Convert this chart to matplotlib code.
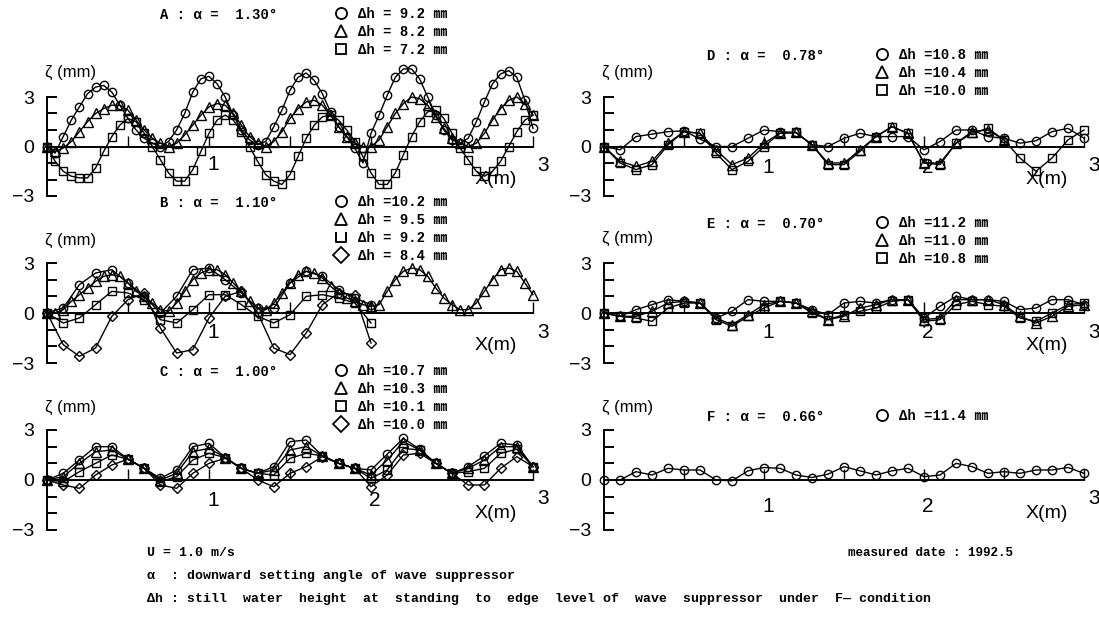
import matplotlib
matplotlib.use("Agg")
import matplotlib.pyplot as plt
from matplotlib.lines import Line2D
from matplotlib.path import Path

W, H = 1099, 621

# ---------------- data (x in m, zeta in mm) ----------------
x05 = [round(0.05 * i, 2) for i in range(61)]
x10 = [round(0.1 * i, 1) for i in range(31)]
x10_to20 = x10[:21]
x10_to25 = x10[:26]

# Panel A : alpha = 1.30 deg
A_dh92 = [0.0, -0.4, 0.6, 1.6, 2.4, 3.2, 3.6, 3.7, 3.3, 2.5, 1.7, 1.0, 0.5, 0.2, 0.0, 0.3,
          1.0, 2.0, 3.3, 4.1, 4.25, 3.8, 3.0, 1.9, 1.0, 0.4, 0.1, 0.3, 1.2, 2.2, 3.4, 4.2,
          4.45, 4.0, 3.2, 2.1, 1.2, 0.6, -0.1, -1.0, 0.8, 1.9, 3.1, 4.2, 4.7, 4.7, 4.1, 3.0,
          1.9, 1.0, 0.4, 0.2, 0.5, 1.5, 2.7, 3.8, 4.4, 4.6, 4.2, 2.8, 1.1]
A_dh82 = [0.0, -0.3, -0.1, 0.3, 0.9, 1.5, 2.0, 2.3, 2.5, 2.5, 2.2, 1.6, 1.0, 0.5, 0.2, 0.0,
          0.2, 0.7, 1.3, 1.9, 2.4, 2.6, 2.5, 2.0, 1.3, 0.6, 0.2, 0.0, 0.3, 0.9, 1.7, 2.3,
          2.7, 2.8, 2.5, 1.9, 1.2, 0.6, 0.2, 0.0, 0.0, 0.4, 1.2, 2.0, 2.6, 3.0, 2.9, 2.5,
          1.8, 1.1, 0.5, 0.2, 0.0, 0.2, 0.8, 1.6, 2.3, 2.8, 3.0, 2.6, 1.9]
A_dh72 = [0.0, -0.9, -1.5, -1.8, -1.9, -1.9, -1.3, -0.3, 0.6, 1.3, 1.7, 1.5, 0.8, 0.0, -0.8, -1.6,
          -2.1, -2.1, -1.4, -0.3, 0.8, 1.6, 1.9, 1.6, 0.9, 0.0, -0.9, -1.7, -2.1, -2.3, -1.7, -0.6,
          0.5, 1.3, 1.8, 1.9, 1.6, 1.0, 0.3, -0.6, -1.6, -2.3, -2.3, -1.6, -0.5, 0.6, 1.5, 2.1,
          2.2, 1.7, 0.8, -0.1, -0.8, -1.5, -1.8, -1.5, -0.9, 0.0, 0.9, 1.6, 1.9]

# Panel B : alpha = 1.10 deg
B_dh102 = [0.0, 0.3, 1.7, 2.4, 2.6, 1.8, 1.0, 0.0, 1.0, 2.6, 2.7, 2.0, 1.2, 0.3, 0.3, 1.8,
           2.5, 2.2, 1.4, 0.9, 0.5]
B_dh95 = [0.0, 0.0, 0.2, 0.7, 1.1, 1.5, 1.9, 2.2, 2.3, 2.2, 1.8, 1.3, 1.0, 0.6, 0.2, 0.1,
          0.6, 1.3, 2.0, 2.4, 2.6, 2.6, 2.3, 1.8, 1.3, 0.7, 0.3, 0.2, 0.6, 1.2, 1.8, 2.3,
          2.5, 2.4, 2.1, 1.6, 1.2, 0.9, 0.7, 0.5, 0.4, 0.5, 1.3, 2.0, 2.5, 2.7, 2.6, 2.2,
          1.5, 0.9, 0.5, 0.2, 0.2, 0.6, 1.3, 2.0, 2.6, 2.7, 2.5, 1.8, 1.1]
B_dh92 = [0.0, -0.6, -0.3, 0.5, 1.3, 1.2, 0.8, -0.4, -0.6, 0.2, 1.1, 1.1, 0.5, -0.2, -0.6, -0.1,
          1.0, 1.1, 0.9, 0.6, -0.6]
B_dh84 = [0.0, -1.9, -2.6, -2.1, -0.2, 0.8, 1.2, -0.9, -2.4, -2.2, -0.3, 1.0, 1.3, 0.0, -2.1, -2.5,
          -1.2, 0.5, 1.2, 1.1, -1.8]

# Panel C : alpha = 1.00 deg
C_dh107 = [0.0, 0.4, 1.2, 2.0, 2.0, 1.25, 0.7, 0.1, 0.6, 2.0, 2.2, 1.35, 0.7, 0.4, 0.8, 2.3,
           2.4, 1.45, 1.0, 0.7, 0.6, 1.55, 2.5, 1.85, 1.0, 0.4, 0.8, 1.45, 2.2, 2.1, 0.8]
C_dh103 = [0.0, 0.2, 1.0, 1.7, 1.8, 1.25, 0.7, 0.0, 0.4, 1.7, 1.9, 1.35, 0.7, 0.4, 0.6, 1.8,
           2.0, 1.45, 1.0, 0.7, 0.3, 1.2, 2.3, 1.8, 1.0, 0.4, 0.7, 1.2, 2.0, 2.0, 0.8]
C_dh101 = [0.0, -0.1, 0.5, 1.0, 1.5, 1.25, 0.7, -0.1, 0.2, 1.2, 1.6, 1.35, 0.7, 0.4, 0.3, 1.3,
           1.6, 1.45, 1.0, 0.7, 0.1, 0.6, 1.9, 1.8, 1.0, 0.4, 0.5, 0.7, 1.6, 1.85, 0.8]
C_dh100 = [0.0, -0.3, -0.5, 0.3, 0.9, 1.25, 0.7, -0.3, -0.5, 0.4, 1.0, 1.3, 0.7, 0.0, -0.4, 0.4,
           0.8, 1.4, 1.0, 0.7, -0.4, 0.3, 1.5, 1.6, 1.0, 0.4, -0.3, -0.3, 0.7, 1.4, 0.8]

# Panel D : alpha = 0.78 deg
D_dh108 = [0.0, -0.2, 0.6, 0.75, 0.9, 0.95, 0.45, 0.0, 0.0, 0.5, 1.0, 0.9, 0.85, 0.1, 0.0, 0.5,
           0.8, 0.6, 0.6, 0.6, -0.2, 0.3, 1.0, 1.0, 0.6, 0.5, 0.2, 0.35, 0.9, 1.1, 0.5]
D_dh104 = [0.0, -0.9, -1.2, -0.9, 0.2, 0.9, 0.8, -0.2, -1.1, -0.7, 0.2, 0.8, 0.85, 0.1, -1.0, -1.0,
           -0.2, 0.6, 1.2, 0.8, -1.0, -1.0, 0.2, 0.9, 1.0, 0.4]
D_dh100 = [0.0, -1.0, -1.4, -1.1, 0.1, 0.9, 0.8, -0.4, -1.4, -0.9, 0.0, 0.8, 0.85, 0.1, -1.1, -1.1,
           -0.3, 0.6, 1.2, 0.8, -1.0, -1.1, 0.2, 0.8, 1.1, 0.4, -0.7, -1.5, -0.7, 0.4, 1.0]

# Panel E : alpha = 0.70 deg
E_dh112 = [0.0, -0.2, 0.2, 0.5, 0.8, 0.7, 0.6, -0.3, 0.1, 0.8, 0.7, 0.7, 0.6, 0.2, -0.1, 0.6,
           0.7, 0.6, 0.8, 0.8, -0.3, 0.4, 1.0, 0.8, 0.8, 0.7, 0.2, 0.3, 0.8, 0.8, 0.5]
E_dh110 = [0.0, -0.2, -0.2, 0.1, 0.6, 0.7, 0.6, -0.3, -0.7, -0.1, 0.5, 0.7, 0.6, 0.1, -0.4, -0.2,
           0.3, 0.5, 0.8, 0.8, -0.4, -0.3, 0.8, 0.8, 0.8, 0.5, -0.2, -0.6, -0.2, 0.4, 0.5]
E_dh108 = [0.0, -0.2, -0.3, -0.5, 0.3, 0.6, 0.6, -0.4, -0.8, -0.2, 0.3, 0.7, 0.6, 0.0, -0.4, -0.1,
           0.1, 0.3, 0.7, 0.8, -0.5, -0.4, 0.5, 0.7, 0.5, 0.4, -0.3, -0.5, 0.0, 0.5, 0.6]

# Panel F : alpha = 0.66 deg
F_dh114 = [0.0, 0.0, 0.5, 0.3, 0.7, 0.6, 0.6, 0.0, -0.05, 0.55, 0.75, 0.7, 0.3, 0.15, 0.35, 0.8,
           0.55, 0.3, 0.55, 0.7, 0.2, 0.3, 1.0, 0.8, 0.4, 0.5, 0.4, 0.6, 0.6, 0.75, 0.4]

# ---------------- styling ----------------
SERIF = ['Liberation Mono', 'Noto Sans CJK JP', 'DejaVu Sans']
SANS = ['Liberation Sans', 'DejaVu Sans']
cup = Path([(-1, 1), (-1, -1), (1, -1), (1, 1)],
           [Path.MOVETO, Path.LINETO, Path.LINETO, Path.LINETO])
MK = {'o': dict(marker='o', ms=6.0), '^': dict(marker='^', ms=6.5),
      's': dict(marker='s', ms=5.3), 'D': dict(marker='D', ms=5.3)}

fig = plt.figure(figsize=(W / 100, H / 100), dpi=100)
fig.patch.set_facecolor('white')


def px(x, y):
    return x / W, 1 - y / H


def make_axes(left, right, ytop, ybot):
    ax = fig.add_axes([left / W, 1 - ybot / H, (right - left) / W, (ybot - ytop) / H])
    ax.set_xlim(0, 3)
    ax.set_ylim(-3, 3)
    ax.patch.set_alpha(0)
    for s in ['top', 'right']:
        ax.spines[s].set_visible(False)
    ax.spines['bottom'].set_position(('data', 0))
    ax.spines['bottom'].set_bounds(0, 3)
    ax.spines['left'].set_bounds(-3, 3)
    ax.spines['left'].set_linewidth(1.4)
    ax.spines['bottom'].set_linewidth(1.4)
    ax.set_yticks([-3, -2, -1, 0, 1, 2, 3])
    ax.set_yticklabels(['\u22123', '', '', '0', '', '', '3'], family=SANS, fontsize=14)
    ax.tick_params(axis='y', direction='in', length=7, width=1.4, pad=9)
    ax.set_xticks([0.5, 1.0, 1.5, 2.0, 2.5, 3.0])
    ax.set_xticklabels([])
    ax.tick_params(axis='x', direction='in', length=8, width=1.0)
    return ax


def xlabels(ax, show2=True, dy1=20):
    ax.annotate('1', xy=(1.0, 0), xytext=(4, -dy1), textcoords='offset pixels',
                ha='center', va='center', family=SANS, fontsize=15)
    if show2:
        ax.annotate('2', xy=(2.0, 0), xytext=(4, -dy1), textcoords='offset pixels',
                    ha='center', va='center', family=SANS, fontsize=15)
    ax.annotate('3', xy=(3.0, 0), xytext=(10, -19), textcoords='offset pixels',
                ha='center', va='center', family=SANS, fontsize=15)
    ax.annotate('X(m)', xy=(2.77, 0), xytext=(0, -33), textcoords='offset pixels',
                ha='center', va='center', family=SANS, fontsize=14)


def series(ax, x, y, m):
    ax.plot(x, y, color='k', lw=1.0, mfc='none', mec='k', mew=1.0,
            clip_on=False, **MK[m])


def header(ax_left, y_zeta, title_xy, title, leg_xy, entries):
    fig.text(*px(ax_left - 2, y_zeta), '\u03b6 (mm)', family=SANS, fontsize=12,
             ha='left', va='center')
    fig.text(*px(*title_xy), title, family=SERIF, fontsize=10, fontweight='bold',
             ha='left', va='center')
    handles = []
    labels = []
    for m, lab in entries:
        if m == 'cup':
            h = Line2D([], [], ls='none', marker=cup, ms=7, mfc='none', mec='k', mew=1.4)
        else:
            h = Line2D([], [], ls='none', marker=m, ms=8 if m != 's' else 7.5,
                       mfc='none', mec='k', mew=1.3)
        handles.append(h)
        labels.append(lab)
    lx, ly = leg_xy
    leg = fig.legend(handles, labels, loc='upper left', bbox_to_anchor=px(lx, ly),
                     frameon=False, handlelength=1.0, handletextpad=0.7,
                     labelspacing=0.28, borderpad=0, borderaxespad=0,
                     prop=dict(family=SERIF, size=10, weight='bold'))
    return leg


# ---------------- Panel A ----------------
axA = make_axes(47, 533, 97, 196)
series(axA, x05, A_dh72, 's')
series(axA, x05, A_dh82, '^')
series(axA, x05, A_dh92, 'o')
xlabels(axA, show2=False, dy1=18)
header(47, 72, (160, 15), 'A : \u03b1 =  1.30\u00b0', (334, 7),
       [('o', '\u0394h = 9.2 \u339c'), ('^', '\u0394h = 8.2 \u339c'), ('s', '\u0394h = 7.2 \u339c')])

# ---------------- Panel B ----------------
axB = make_axes(47, 533, 263, 363)
series(axB, x10_to20, B_dh84, 'D')
series(axB, x10_to20, B_dh92, 's')
series(axB, x05, B_dh95, '^')
series(axB, x10_to20, B_dh102, 'o')
xlabels(axB, show2=False, dy1=20)
header(47, 240, (160, 203), 'B : \u03b1 =  1.10\u00b0', (334, 195),
       [('o', '\u0394h =10.2 \u339c'), ('^', '\u0394h = 9.5 \u339c'),
        ('cup', '\u0394h = 9.2 \u339c'), ('D', '\u0394h = 8.4 \u339c')])

# ---------------- Panel C ----------------
axC = make_axes(47, 533, 430, 530)
series(axC, x10, C_dh100, 'D')
series(axC, x10, C_dh101, 's')
series(axC, x10, C_dh103, '^')
series(axC, x10, C_dh107, 'o')
xlabels(axC, show2=True, dy1=20)
header(47, 407, (160, 372), 'C : \u03b1 =  1.00\u00b0', (334, 364),
       [('o', '\u0394h =10.7 \u339c'), ('^', '\u0394h =10.3 \u339c'),
        ('s', '\u0394h =10.1 \u339c'), ('D', '\u0394h =10.0 \u339c')])

# ---------------- Panel D ----------------
axD = make_axes(604, 1084, 97, 196)
series(axD, x10, D_dh100, 's')
series(axD, x10_to25, D_dh104, '^')
series(axD, x10, D_dh108, 'o')
xlabels(axD, show2=True, dy1=21)
header(604, 72, (707, 56), 'D : \u03b1 =  0.78\u00b0', (875, 48),
       [('o', '\u0394h =10.8 \u339c'), ('^', '\u0394h =10.4 \u339c'), ('s', '\u0394h =10.0 \u339c')])

# ---------------- Panel E ----------------
axE = make_axes(604, 1084, 263, 363)
series(axE, x10, E_dh108, 's')
series(axE, x10, E_dh110, '^')
series(axE, x10, E_dh112, 'o')
xlabels(axE, show2=True, dy1=20)
header(604, 238, (707, 224), 'E : \u03b1 =  0.70\u00b0', (875, 216),
       [('o', '\u0394h =11.2 \u339c'), ('^', '\u0394h =11.0 \u339c'), ('s', '\u0394h =10.8 \u339c')])

# ---------------- Panel F ----------------
axF = make_axes(604, 1084, 430, 530)
series(axF, x10, F_dh114, 'o')
xlabels(axF, show2=True, dy1=27)
header(604, 407, (707, 417), 'F : \u03b1 =  0.66\u00b0', (875, 409),
       [('o', '\u0394h =11.4 \u339c')])

# ---------------- footer ----------------
FOOT = dict(family=SERIF, fontsize=9.5, fontweight='bold', ha='left', va='center')
fig.text(*px(147, 553), 'U = 1.0 m/s', **FOOT)
fig.text(*px(848, 553), 'measured date : 1992.5', family=SERIF, fontsize=9,
         fontweight='bold', ha='left', va='center')
fig.text(*px(147, 576), '\u03b1  : downward setting angle of wave suppressor', **FOOT)
fig.text(*px(147, 599), '\u0394h : still  water  height  at  standing  to  edge  level of  '
         'wave  suppressor  under  F\u2014 condition', **FOOT)

fig.savefig('out.png', dpi=100, facecolor='white')
